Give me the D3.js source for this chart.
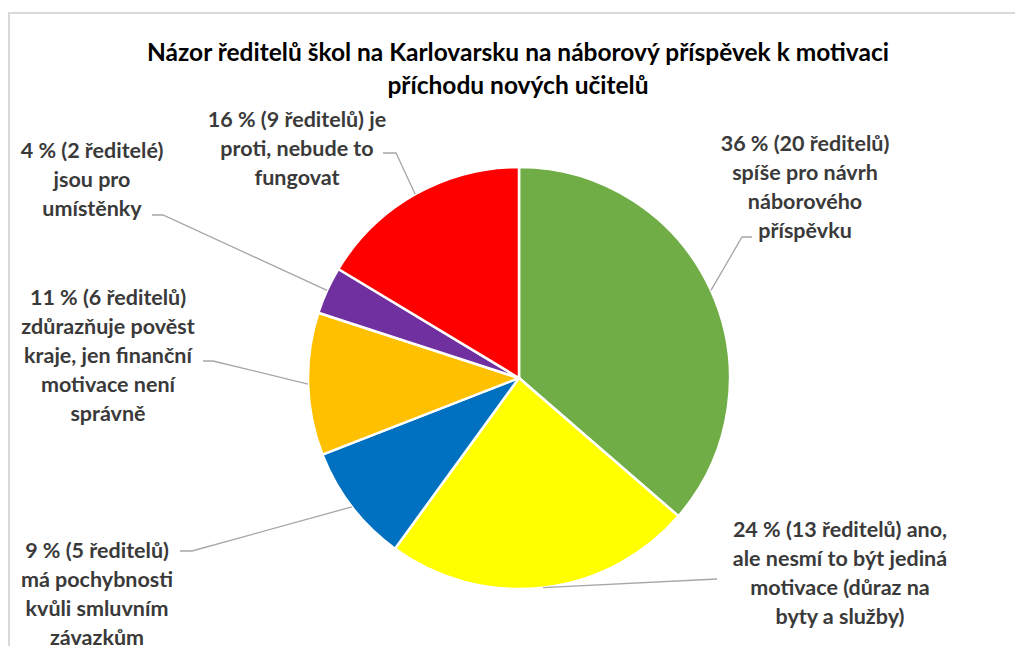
<!DOCTYPE html>
<html>
<head>
<meta charset="utf-8">
<script src="https://cdn.jsdelivr.net/npm/d3@7"></script>
<style>
  body { margin: 0; background: #fff; }
  svg text { font-family: Lato, "Noto Sans", sans-serif; font-weight: bold; }
</style>
</head>
<body>
<svg id="drawing_region"></svg>
<script>
// data
var categories = [
    'spíše pro návrh náborového příspěvku',
    'ano, ale nesmí to být jediná motivace (důraz na byty a služby)',
    'má pochybnosti kvůli smluvním závazkům',
    'zdůrazňuje pověst kraje, jen finanční motivace není správně',
    'jsou pro umístěnky',
    'je proti, nebude to fungovat'
];
var counts = [20, 13, 5, 6, 2, 9];
var percents = [36, 24, 9, 11, 4, 16];
var labelLines = [
    ['36 % (20 ředitelů)', 'spíše pro návrh', 'náborového', 'příspěvku'],
    ['24 % (13 ředitelů) ano,', 'ale nesmí to být jediná', 'motivace (důraz na', 'byty a služby)'],
    ['9 % (5 ředitelů)', 'má pochybnosti', 'kvůli smluvním', 'závazkům'],
    ['11 % (6 ředitelů)', 'zdůrazňuje pověst', 'kraje, jen finanční', 'motivace není', 'správně'],
    ['4 % (2 ředitelé)', 'jsou pro', 'umístěnky'],
    ['16 % (9 ředitelů) je', 'proti, nebude to', 'fungovat']
];
var colors = ['#70AD47', '#FFFF00', '#0070C0', '#FFC000', '#7030A0', '#FF0000'];
var titleLines = [
    'Názor ředitelů škol na Karlovarsku na náborový příspěvek k motivaci',
    'příchodu nových učitelů'
];

// label placement (text center x, first line y, leader start, leader elbow)
var labelLayout = [
    {x: 805, y: 143, start: [752, 237], elbow: [742, 237]},
    {x: 840, y: 529, start: [717, 579], elbow: [717, 579]},
    {x: 97,  y: 550, start: [180, 551], elbow: [192, 551]},
    {x: 108, y: 297, start: [203, 361], elbow: [213, 361]},
    {x: 92,  y: 150, start: [152, 215], elbow: [163, 215]},
    {x: 297, y: 119, start: [383, 153], elbow: [396, 153]}
];

class PieChart {

    constructor(config) {
        this.config = {
            parent: config.parent,
            width: config.width || 1015,
            height: config.height || 646,
            cx: config.cx,
            cy: config.cy,
            radius: config.radius
        };
        this.data = counts.map((c, i) => ({
            label: categories[i], value: c, percent: percents[i],
            lines: labelLines[i], color: colors[i], layout: labelLayout[i]
        }));
        this.init();
    }

    init() {
        let self = this;

        self.svg = d3.select(self.config.parent)
            .attr('width', self.config.width)
            .attr('height', self.config.height);

        // chart area border
        self.svg.append('rect')
            .attr('x', 9)
            .attr('y', 13)
            .attr('width', self.config.width + 20)
            .attr('height', self.config.height + 20)
            .attr('fill', 'none')
            .attr('stroke', '#D9D9D9')
            .attr('stroke-width', 2);

        self.chart = self.svg.append('g')
            .attr('transform', `translate(${self.config.cx}, ${self.config.cy})`);

        self.pie = d3.pie()
            .sort(null)
            .value(d => d.value);

        self.arc = d3.arc()
            .innerRadius(0)
            .outerRadius(self.config.radius);

        self.edge = d3.arc()
            .innerRadius(self.config.radius)
            .outerRadius(self.config.radius);
    }

    render() {
        let self = this;
        const arcs = self.pie(self.data);

        self.chart.selectAll('path.slice')
            .data(arcs)
            .enter()
            .append('path')
            .attr('class', 'slice')
            .attr('d', self.arc)
            .attr('fill', d => d.data.color)
            .attr('stroke', '#fff')
            .attr('stroke-width', 2.5)
            .attr('stroke-linejoin', 'round');

        // leader lines
        self.svg.selectAll('polyline.leader')
            .data(arcs)
            .enter()
            .append('polyline')
            .attr('class', 'leader')
            .attr('fill', 'none')
            .attr('stroke', '#A6A6A6')
            .attr('stroke-width', 1.3)
            .attr('points', d => {
                const c = self.edge.centroid(d);
                const p = [c[0] + self.config.cx, c[1] + self.config.cy];
                const l = d.data.layout;
                return [l.start, l.elbow, p].map(q => q.join(',')).join(' ');
            });

        // labels
        const labels = self.svg.selectAll('text.label')
            .data(arcs)
            .enter()
            .append('text')
            .attr('class', 'label')
            .attr('text-anchor', 'middle')
            .attr('fill', '#3A3A3A')
            .style('font-size', '21.5px');

        labels.selectAll('tspan')
            .data(d => d.data.lines.map(t => ({t: t, l: d.data.layout})))
            .enter()
            .append('tspan')
            .attr('x', d => d.l.x)
            .attr('y', (d, i) => d.l.y + i * 29)
            .attr('dy', '0.35em')
            .text(d => d.t);

        // title
        self.svg.append('text')
            .attr('text-anchor', 'middle')
            .attr('fill', '#000')
            .style('font-size', '24.5px')
            .selectAll('tspan')
            .data(titleLines)
            .enter()
            .append('tspan')
            .attr('x', 518)
            .attr('y', (d, i) => 52 + i * 33)
            .attr('dy', '0.35em')
            .text(d => d);
    }
}

const piechart = new PieChart({
    parent: '#drawing_region',
    width: 1015,
    height: 646,
    cx: 519,
    cy: 378,
    radius: 211
});
piechart.render();
</script>
</body>
</html>
